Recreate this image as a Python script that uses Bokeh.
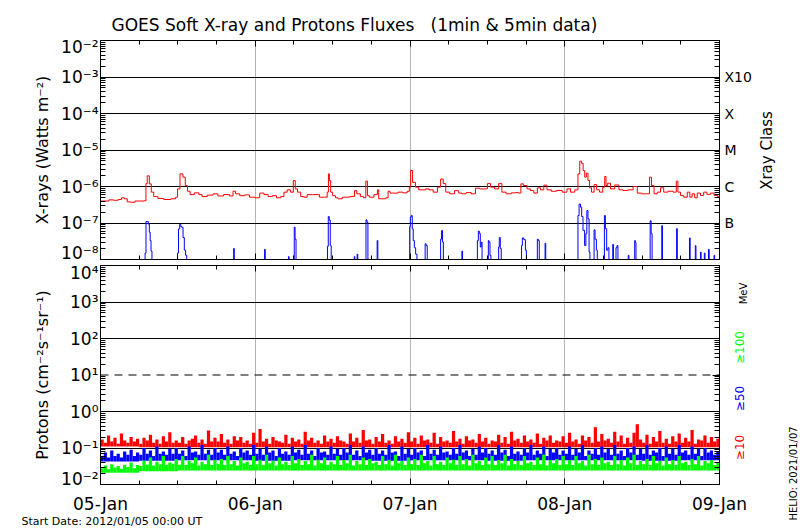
from bokeh.plotting import figure
from bokeh.models import Range1d, FixedTicker, LinearAxis, LogAxis, Label, Span, Title
from bokeh.layouts import column
from bokeh.embed import file_html
from bokeh.resources import INLINE

FONT = "DejaVu Sans"

# ---------------- data ----------------
day_ticks = [0, 24, 48, 72, 96]
day_labels = ["05-Jan", "06-Jan", "07-Jan", "08-Jan", "09-Jan"]

xray_decades = [1e-8, 1e-7, 1e-6, 1e-5, 1e-4, 1e-3, 1e-2]
xray_tick_labels = ["10⁻⁸", "10⁻⁷", "10⁻⁶", "10⁻⁵", "10⁻⁴", "10⁻³", "10⁻²"]
xray_classes = ["", "B", "C", "M", "X", "X10", ""]

proton_decades = [1e-2, 1e-1, 1e0, 1e1, 1e2, 1e3, 1e4]
proton_tick_labels = ["10⁻²", "10⁻¹", "10⁰", "10¹", "10²", "10³", "10⁴"]

energy_labels = ["≥10", "≥50", "≥100"]
energy_colors = ["#ff0000", "#0000ff", "#00ff00"]

# GOES long channel (1-8 A), hours since 2012-01-05 00:00, W m^-2
xray_long = [
    (0.0, 4.0e-7), (1.0, 4.0e-7), (1.6, 4.3e-7), (2.4, 4.2e-7), (3.1, 4.4e-7), (3.4, 4.9e-7),
    (4.0, 4.6e-7), (4.3, 3.8e-7), (5.0, 3.7e-7), (5.7, 4.0e-7), (6.6, 4.0e-7), (7.0, 4.1e-7),
    (7.1, 1.2e-6), (7.4, 1.96e-6), (7.75, 1.18e-6), (8.0, 7.0e-7), (8.5, 5.3e-7), (9.3, 4.7e-7),
    (10.3, 4.4e-7), (11.5, 4.6e-7), (11.8, 5.1e-7), (12.1, 8.6e-7), (12.56, 2.22e-6), (13.0, 1.8e-6),
    (13.3, 1.06e-6), (13.7, 7.4e-7), (14.1, 6.0e-7), (15.0, 6.7e-7), (15.5, 6.0e-7), (16.0, 5.3e-7),
    (17.1, 5.8e-7), (17.8, 6.3e-7), (18.6, 5.5e-7), (19.6, 6.0e-7), (20.4, 5.5e-7), (20.7, 7.4e-7),
    (21.2, 6.3e-7), (22.0, 5.6e-7), (22.7, 5.9e-7), (23.5, 5.1e-7), (24.3, 4.9e-7), (25.1, 6.6e-7),
    (25.6, 6.0e-7), (26.4, 5.3e-7), (26.9, 5.6e-7), (27.7, 4.9e-7), (28.2, 5.3e-7), (28.7, 7.0e-7),
    (29.2, 8.1e-7), (29.7, 7.0e-7), (30.1, 1.46e-6), (30.3, 8.6e-7), (30.8, 7.0e-7), (31.3, 5.3e-7),
    (31.8, 5.1e-7), (32.3, 6.0e-7), (33.5, 6.0e-7), (34.4, 5.1e-7), (35.0, 5.1e-7), (35.3, 7.0e-7),
    (35.4, 2.22e-6), (35.6, 1.46e-6), (35.8, 7.0e-7), (36.2, 5.6e-7), (36.7, 4.9e-7), (37.0, 4.6e-7),
    (38.0, 5.1e-7), (39.3, 5.3e-7), (39.5, 7.7e-7), (40.0, 6.3e-7), (40.6, 5.3e-7), (41.0, 4.9e-7),
    (41.3, 1.41e-6), (41.5, 5.6e-7), (41.9, 5.1e-7), (42.9, 6.0e-7), (43.0, 8.1e-7), (43.3, 4.6e-7),
    (44.0, 4.6e-7), (44.5, 4.9e-7), (44.7, 7.4e-7), (45.1, 6.6e-7), (45.8, 6.6e-7), (46.5, 7.0e-7),
    (47.3, 6.7e-7), (47.8, 7.4e-7), (48.0, 9.6e-7), (48.2, 2.74e-6), (48.6, 1.3e-6), (49.1, 9.6e-7),
    (49.6, 8.1e-7), (50.1, 8.1e-7), (50.7, 8.6e-7), (51.2, 8.1e-7), (52.0, 7.0e-7), (52.5, 9.6e-7),
    (53.0, 1.6e-6), (53.3, 1.2e-6), (53.8, 7.0e-7), (54.5, 6.3e-7), (55.3, 7.7e-7), (55.8, 6.6e-7),
    (56.3, 6.3e-7), (57.1, 6.8e-7), (57.9, 6.3e-7), (58.4, 9.0e-7), (59.2, 8.6e-7), (59.7, 8.6e-7),
    (60.3, 1.2e-6), (60.7, 9.6e-7), (61.5, 8.6e-7), (62.0, 1.2e-6), (62.5, 7.0e-7), (63.3, 6.3e-7),
    (64.1, 6.7e-7), (64.6, 6.8e-7), (65.1, 6.6e-7), (65.3, 1.18e-6), (65.9, 1.06e-6), (66.4, 8.6e-7),
    (66.9, 7.8e-7), (67.5, 6.6e-7), (68.0, 9.2e-7), (68.5, 8.1e-7), (69.0, 1.09e-6), (69.5, 8.1e-7),
    (70.3, 7.4e-7), (71.1, 7.8e-7), (72.1, 7.0e-7), (72.6, 8.6e-7), (73.2, 7.0e-7), (73.9, 8.1e-7),
    (74.2, 2.22e-6), (74.45, 4.95e-6), (74.7, 4.36e-6), (75.0, 2.74e-6), (75.2, 1.8e-6), (75.5, 2.32e-6),
    (75.7, 1.46e-6), (76.0, 9.2e-7), (76.3, 7.0e-7), (76.8, 1.13e-6), (77.1, 8.1e-7), (77.7, 7.0e-7),
    (78.1, 9.6e-7), (78.3, 1.88e-6), (78.5, 1.06e-6), (78.8, 1.23e-6), (79.4, 8.6e-7), (80.1, 1.1e-6),
    (80.7, 8.1e-7), (81.4, 7.8e-7), (82.2, 8.1e-7), (83.0, 1.0e-6), (83.5, 6.6e-7), (84.3, 6.3e-7),
    (85.0, 6.3e-7), (85.3, 1.8e-6), (85.6, 1.06e-6), (86.1, 6.3e-7), (86.6, 7.0e-7), (87.1, 9.2e-7),
    (87.6, 7.0e-7), (88.4, 7.4e-7), (89.2, 7.0e-7), (89.4, 1.4e-6), (89.7, 7.0e-7), (90.2, 5.7e-7),
    (90.7, 5.1e-7), (91.3, 7.0e-7), (91.5, 5.1e-7), (92.0, 6.3e-7), (92.3, 4.9e-7), (92.8, 6.6e-7),
    (93.3, 5.7e-7), (93.8, 7.0e-7), (94.3, 6.1e-7), (94.9, 6.6e-7), (95.4, 5.7e-7), (96.0, 5.3e-7),
]

# GOES short channel (0.5-4 A); values of 1e-9 are below the plotted range
F = 1e-9
xray_short = [
    (6.85, F), (6.98, 1.5e-8), (7.13, 1.1e-7), (7.34, 1.1e-7), (7.5, 9.3e-8), (7.65, 5.6e-8),
    (7.76, 3.3e-8), (7.91, 1.7e-8), (8.05, F),
    (11.9, F), (12.0, 1.5e-8), (12.2, 6.9e-8), (12.36, 9.1e-8), (12.56, 7.9e-8), (12.7, 7.6e-8),
    (12.9, 4.0e-8), (13.1, 1.8e-8), (13.3, 1.3e-8), (13.45, F),
    (20.6, F), (20.7, 2.0e-8), (20.8, F), (25.4, F), (25.5, 1.9e-8), (25.6, F),
    (29.1, F), (29.2, 1.2e-8), (29.3, F),
    (30.0, F), (30.1, 7.7e-8), (30.25, 3.6e-8), (30.4, F),
    (35.15, F), (35.25, 2.3e-8), (35.4, 1.5e-7), (35.56, 1.2e-7), (35.7, 2.4e-8), (35.85, F),
    (39.3, F), (39.4, 1.2e-8), (39.5, F), (39.75, F), (39.85, 1.4e-8), (39.95, F),
    (41.1, F), (41.25, 1.22e-7), (41.4, 1.05e-7), (41.55, F),
    (42.85, F), (42.96, 3.3e-8), (43.07, F),
    (47.9, F), (48.0, 7.9e-8), (48.1, 1.45e-7), (48.3, 1.6e-7), (48.4, 6.9e-8), (48.6, 3.3e-8),
    (48.75, 2.1e-8), (49.0, 1.4e-8), (49.15, F),
    (50.3, F), (50.4, 2.7e-8), (50.6, 2.4e-8), (50.75, F),
    (52.7, F), (52.8, 3.6e-8), (53.0, 6.2e-8), (53.1, 3.0e-8), (53.25, F),
    (56.0, F), (56.1, 1.7e-8), (56.2, F),
    (58.4, F), (58.5, 3.3e-8), (58.7, 6.0e-8), (58.8, 5.2e-8), (59.0, 2.2e-8), (59.1, 3.0e-8), (59.25, F),
    (60.1, F), (60.2, 3.3e-8), (60.3, 3.0e-8), (60.5, 1.3e-8), (60.6, F),
    (61.7, F), (61.8, 2.2e-8), (61.9, 4.0e-8), (62.1, 2.0e-8), (62.2, F),
    (65.25, F), (65.35, 2.4e-8), (65.5, 3.9e-8), (65.8, 3.5e-8), (66.0, 1.8e-8), (66.1, F),
    (67.7, F), (67.8, 3.6e-8), (68.0, 3.3e-8), (68.1, F),
    (68.9, F), (69.0, 2.8e-8), (69.1, F),
    (74.0, F), (74.1, 1.6e-7), (74.35, 3.3e-7), (74.55, 2.7e-7), (74.7, 1.5e-7), (74.96, 6.3e-8),
    (75.2, 2.4e-8), (75.35, 5.1e-8), (75.5, 2.2e-7), (75.7, 1.3e-7), (75.85, 1.6e-8), (75.95, F),
    (76.5, F), (76.6, 6.5e-8), (76.8, 3.6e-8), (77.0, 1.8e-8), (77.1, F),
    (78.1, F), (78.2, 1.6e-7), (78.4, 7.0e-8), (78.6, 1.8e-8), (78.8, 2.1e-8), (78.9, F),
    (79.4, F), (79.5, 2.6e-8), (79.6, F), (79.9, F), (80.0, 2.1e-8), (80.2, 2.4e-8), (80.3, F),
    (81.8, F), (81.9, 1.3e-8), (82.0, F),
    (82.8, F), (82.9, 3.3e-8), (83.0, 2.9e-8), (83.1, F),
    (85.2, F), (85.3, 1.15e-7), (85.5, 5.1e-8), (85.6, F),
    (87.0, F), (87.1, 8.5e-8), (87.2, F),
    (89.3, F), (89.4, 7.0e-8), (89.5, F),
    (91.3, F), (91.4, 3.9e-8), (91.5, F),
    (92.2, F), (92.3, 2.4e-8), (92.4, F),
    (93.0, F), (93.1, 1.6e-8), (93.2, F), (93.6, F), (93.7, 1.5e-8), (93.8, F),
    (94.25, F), (94.35, 1.9e-8), (94.45, F), (95.1, F), (95.2, 1.3e-8), (95.3, F),
]

# proton integral fluxes, cm^-2 s^-1 sr^-1: maximum of the 5-min readings in each 30-min bin
p10 = [
    0.17, 0.14, 0.22, 0.15, 0.19, 0.13, 0.25, 0.16, 0.14, 0.20, 0.15, 0.18,
    0.13, 0.19, 0.16, 0.23, 0.14, 0.17, 0.13, 0.21, 0.15, 0.27, 0.14, 0.16,
    0.14, 0.20, 0.13, 0.16, 0.18, 0.22, 0.14, 0.17, 0.13, 0.30, 0.15, 0.19,
    0.15, 0.24, 0.14, 0.17, 0.13, 0.21, 0.16, 0.20, 0.14, 0.16, 0.13, 0.26,
    0.14, 0.33, 0.15, 0.18, 0.13, 0.20, 0.16, 0.15, 0.14, 0.23, 0.13, 0.19,
    0.15, 0.17, 0.13, 0.28, 0.16, 0.19, 0.14, 0.16, 0.13, 0.22, 0.15, 0.18,
    0.14, 0.21, 0.16, 0.15, 0.13, 0.25, 0.15, 0.19, 0.14, 0.31, 0.16, 0.17,
    0.13, 0.20, 0.15, 0.24, 0.14, 0.16, 0.13, 0.21, 0.15, 0.18, 0.14, 0.27,
    0.15, 0.19, 0.13, 0.22, 0.16, 0.17, 0.14, 0.26, 0.13, 0.20, 0.15, 0.16,
    0.14, 0.29, 0.15, 0.18, 0.13, 0.21, 0.16, 0.17, 0.14, 0.24, 0.15, 0.19,
    0.13, 0.16, 0.15, 0.23, 0.14, 0.20, 0.13, 0.28, 0.16, 0.18, 0.14, 0.22,
    0.15, 0.17, 0.14, 0.25, 0.13, 0.19, 0.16, 0.22, 0.14, 0.16, 0.15, 0.21,
    0.14, 0.26, 0.15, 0.17, 0.13, 0.22, 0.16, 0.20, 0.14, 0.37, 0.15, 0.24,
    0.16, 0.18, 0.14, 0.28, 0.15, 0.22, 0.13, 0.19, 0.14, 0.26, 0.45, 0.17,
    0.14, 0.23, 0.13, 0.20, 0.15, 0.29, 0.14, 0.18, 0.13, 0.21, 0.15, 0.25,
    0.14, 0.19, 0.15, 0.31, 0.13, 0.17, 0.16, 0.22, 0.14, 0.20, 0.15, 0.18,
]
p50 = [
    0.06, 0.075, 0.055, 0.085, 0.06, 0.07, 0.055, 0.08, 0.065, 0.09, 0.06, 0.075,
    0.065, 0.10, 0.07, 0.085, 0.06, 0.11, 0.07, 0.08, 0.065, 0.095, 0.07, 0.10,
    0.07, 0.085, 0.06, 0.11, 0.075, 0.08, 0.065, 0.12, 0.07, 0.09, 0.065, 0.10,
    0.075, 0.09, 0.065, 0.11, 0.07, 0.08, 0.06, 0.10, 0.075, 0.085, 0.065, 0.12,
    0.07, 0.095, 0.065, 0.11, 0.075, 0.085, 0.06, 0.10, 0.07, 0.08, 0.065, 0.11,
    0.075, 0.09, 0.065, 0.12, 0.07, 0.085, 0.06, 0.10, 0.075, 0.08, 0.065, 0.11,
    0.07, 0.095, 0.065, 0.10, 0.075, 0.12, 0.065, 0.085, 0.06, 0.11, 0.075, 0.09,
    0.065, 0.10, 0.07, 0.085, 0.065, 0.12, 0.075, 0.08, 0.06, 0.11, 0.07, 0.095,
    0.065, 0.10, 0.075, 0.085, 0.06, 0.12, 0.07, 0.09, 0.065, 0.11, 0.075, 0.08,
    0.065, 0.10, 0.07, 0.12, 0.075, 0.085, 0.06, 0.095, 0.065, 0.11, 0.075, 0.10,
    0.07, 0.085, 0.065, 0.12, 0.075, 0.09, 0.06, 0.11, 0.07, 0.08, 0.065, 0.10,
    0.075, 0.12, 0.065, 0.085, 0.07, 0.11, 0.06, 0.095, 0.075, 0.10, 0.065, 0.085,
    0.07, 0.11, 0.065, 0.095, 0.075, 0.12, 0.06, 0.085, 0.07, 0.10, 0.065, 0.11,
    0.075, 0.095, 0.065, 0.12, 0.07, 0.085, 0.06, 0.10, 0.075, 0.11, 0.065, 0.095,
    0.07, 0.12, 0.065, 0.085, 0.075, 0.10, 0.06, 0.11, 0.07, 0.095, 0.065, 0.12,
    0.075, 0.085, 0.065, 0.11, 0.07, 0.095, 0.06, 0.10, 0.075, 0.085, 0.065, 0.08,
]
p100 = [
    0.028, 0.033, 0.026, 0.036, 0.029, 0.032, 0.027, 0.035, 0.03, 0.04, 0.028, 0.034,
    0.032, 0.045, 0.035, 0.055, 0.033, 0.042, 0.036, 0.06, 0.034, 0.04, 0.037, 0.05,
    0.035, 0.06, 0.034, 0.045, 0.038, 0.055, 0.033, 0.042, 0.036, 0.065, 0.034, 0.048,
    0.037, 0.05, 0.034, 0.06, 0.036, 0.044, 0.033, 0.055, 0.038, 0.042, 0.034, 0.06,
    0.036, 0.048, 0.034, 0.065, 0.038, 0.045, 0.033, 0.055, 0.036, 0.042, 0.034, 0.06,
    0.038, 0.05, 0.034, 0.044, 0.036, 0.065, 0.033, 0.048, 0.038, 0.055, 0.034, 0.042,
    0.036, 0.06, 0.034, 0.047, 0.038, 0.065, 0.033, 0.044, 0.036, 0.055, 0.034, 0.05,
    0.038, 0.042, 0.034, 0.06, 0.036, 0.048, 0.033, 0.065, 0.038, 0.044, 0.034, 0.055,
    0.036, 0.05, 0.034, 0.065, 0.038, 0.044, 0.033, 0.06, 0.036, 0.042, 0.034, 0.055,
    0.038, 0.048, 0.034, 0.06, 0.036, 0.05, 0.033, 0.065, 0.038, 0.044, 0.034, 0.055,
    0.036, 0.06, 0.034, 0.047, 0.038, 0.065, 0.033, 0.05, 0.036, 0.044, 0.034, 0.06,
    0.038, 0.042, 0.034, 0.055, 0.036, 0.065, 0.033, 0.047, 0.038, 0.05, 0.034, 0.06,
    0.036, 0.047, 0.034, 0.06, 0.038, 0.044, 0.033, 0.065, 0.036, 0.05, 0.034, 0.055,
    0.038, 0.042, 0.034, 0.06, 0.036, 0.047, 0.033, 0.055, 0.038, 0.065, 0.034, 0.044,
    0.036, 0.05, 0.034, 0.06, 0.038, 0.044, 0.033, 0.055, 0.036, 0.047, 0.034, 0.06,
    0.038, 0.042, 0.034, 0.05, 0.036, 0.06, 0.033, 0.044, 0.038, 0.047, 0.034, 0.04,
]
# lowest 5-min reading in each 6-hour block
p10_floor = [0.11, 0.105, 0.105, 0.105, 0.105, 0.105, 0.105, 0.105,
             0.105, 0.105, 0.105, 0.105, 0.105, 0.105, 0.105, 0.105]
p50_floor = [0.043, 0.045, 0.046, 0.046, 0.045, 0.046, 0.046, 0.045,
             0.046, 0.046, 0.045, 0.046, 0.046, 0.046, 0.045, 0.046]
p100_floor = [0.021, 0.023, 0.024, 0.024, 0.024, 0.024, 0.024, 0.024,
              0.024, 0.024, 0.024, 0.024, 0.024, 0.024, 0.024, 0.024]

# the wide gap of the original title is kept with no-break spaces
title_text = "GOES Soft X-ray and Protons Fluxes\u00a0\u00a0\u00a0(1min & 5min data)"
start_text = "Start Date: 2012/01/05 00:00 UT"
helio_text = "HELIO: 2021/01/07"

# ---------------- layout helpers (reference pixel positions -> data) ----------------
FR_L, FR_R = 100, 719
TOP_T, TOP_B = 40, 259
BOT_T, BOT_B = 265, 484
DEC = (TOP_B - TOP_T) / 6.0
END_SHIFT = 6.0 / DEC     # end-of-axis tick labels sit ~6 px inside the panel


def hx(px):
    return (px - FR_L) * 96.0 / (FR_R - FR_L)


def top_y(py):
    return 10 ** (-2 - (py - TOP_T) / DEC)


def bot_y(py):
    return 10 ** (4 - (py - BOT_T) / DEC)


six_hour_minor = [h for h in range(0, 97, 6) if h % 24]
GRAY = "#b4b4b4"


def minor_log(decades):
    return [m * d for d in decades[:-1] for m in range(2, 10)]


def style_axis(ax, tin, tmin):
    ax.major_tick_in = tin
    ax.major_tick_out = 0
    ax.minor_tick_in = tmin
    ax.minor_tick_out = 0
    ax.axis_line_color = "black"
    ax.major_tick_line_color = "black"
    ax.minor_tick_line_color = "black"
    ax.major_label_text_font = FONT
    ax.major_label_text_color = "black"
    ax.axis_label_text_font = FONT
    ax.axis_label_text_font_style = "normal"
    ax.axis_label_text_color = "black"


def hide_labels(ax):
    ax.major_label_text_font_size = "1px"
    ax.major_label_text_color = None
    ax.major_label_standoff = 0


def side_label(p, side, x, y, text, size, color="black", angle=0, align="center"):
    p.add_layout(Label(x=x, y=y, text=text, text_font=FONT, text_font_size=size,
                       text_color=color, text_align=align, text_baseline="middle",
                       angle=angle, angle_units="deg"), side)


def make_fig(height, yr, decades, tick_labels, b_top, b_bottom, ylabel):
    p = figure(width=800, height=height, x_range=Range1d(0, 96), y_range=Range1d(*yr),
               y_axis_type="log", output_backend="svg", toolbar_location=None,
               min_border_left=FR_L, min_border_right=800 - FR_R,
               min_border_top=b_top, min_border_bottom=b_bottom)
    p.outline_line_color = "black"
    p.outline_line_alpha = 1.0
    p.background_fill_color = "white"
    p.border_fill_color = "white"

    p.xgrid.ticker = FixedTicker(ticks=day_ticks[1:-1])
    p.xgrid.grid_line_color = GRAY
    p.xgrid.grid_line_width = 1
    p.ygrid.grid_line_color = "black"
    p.ygrid.grid_line_alpha = 1.0
    p.ygrid.grid_line_width = 1

    minors = minor_log(decades)
    inner = decades[1:-1]
    xt = FixedTicker(ticks=day_ticks, minor_ticks=six_hour_minor)

    # left axis: decade labels; the two end labels are nudged inside the panel
    label_pos = [decades[0] * 10 ** END_SHIFT] + inner + [decades[-1] / 10 ** END_SHIFT]
    left = p.yaxis[0]
    left.ticker = FixedTicker(ticks=label_pos, minor_ticks=minors)
    style_axis(left, 0, 5)
    left.major_label_overrides = dict(zip(label_pos, tick_labels))
    left.major_label_text_font_size = "17px"
    left.major_label_standoff = 2
    left.axis_label = ylabel
    left.axis_label_text_font_size = "16px"
    left.axis_label_standoff = 6

    below = p.xaxis[0]
    below.ticker = xt
    style_axis(below, 6, 4)

    above = LinearAxis(ticker=xt)
    style_axis(above, 6, 4)
    hide_labels(above)
    p.add_layout(above, "above")

    right = LogAxis(ticker=FixedTicker(ticks=inner, minor_ticks=minors))
    style_axis(right, 7, 5)
    p.add_layout(right, "right")
    return p, below, right


# ---------------- top panel: X-rays ----------------
top, top_below, top_right = make_fig(262, (1e-8, 1e-2), xray_decades, xray_tick_labels, 40, 3,
                                     "X-rays (Watts m⁻²)")
hide_labels(top_below)
top.ygrid.ticker = FixedTicker(ticks=xray_decades[1:-1])
top_right.major_label_overrides = dict(zip(xray_decades[1:-1], xray_classes[1:-1]))
top_right.major_label_text_font_size = "14px"
top_right.major_label_standoff = 5

top.step([t for t, v in xray_long], [v for t, v in xray_long], mode="center",
         line_color="#ff0000", line_width=1)
top.step([t for t, v in xray_short], [v for t, v in xray_short], mode="center",
         line_color="#0000ff", line_width=1)

top.title = Title(text=title_text, align="left", offset=11, text_font=FONT,
                  text_font_size="17px", text_font_style="normal", text_color="black",
                  standoff=12)
side_label(top, "right", hx(766), top_y(150), "Xray Class", "15px", angle=90)

# ---------------- bottom panel: protons ----------------
bot, bot_below, bot_right = make_fig(268, (1e-2, 1e4), proton_decades, proton_tick_labels, 3, 46,
                                     "Protons (cm⁻²s⁻¹sr⁻¹)")
bot.ygrid.ticker = FixedTicker(ticks=[1e-1, 1e0, 1e2, 1e3])
hide_labels(bot_right)
bot_below.major_label_overrides = dict(zip(day_ticks, day_labels))
bot_below.major_label_text_font_size = "17px"
bot_below.major_label_standoff = 9
bot.add_layout(Span(location=1e1, dimension="width", line_color="black", line_width=1,
                    line_dash="8 6", level="underlay"))

n_bins = len(p10)
bin_w = 96.0 / n_bins
left_edges = [i * bin_w for i in range(n_bins)]
right_edges = [e + bin_w for e in left_edges]
block = n_bins // len(p10_floor)
for vals, floors, col in zip([p10, p50, p100], [p10_floor, p50_floor, p100_floor], energy_colors):
    bot.quad(left=left_edges, right=right_edges, top=vals,
             bottom=[floors[i // block] for i in range(n_bins)],
             fill_color=col, line_color=None)

side_label(bot, "right", hx(743), bot_y(293), "MeV", "10px", angle=90)
for lab, col, py in zip(energy_labels, energy_colors, [447, 398, 347]):
    side_label(bot, "right", hx(739), bot_y(py), lab, "12px", color=col, angle=90)
side_label(bot, "right", hx(793), bot_y(473), helio_text, "10px", angle=90)
side_label(bot, "below", hx(21), bot_y(521), start_text, "11px", align="left")

layout = column(top, bot)
open("out.html", "w").write(file_html(layout, INLINE))
